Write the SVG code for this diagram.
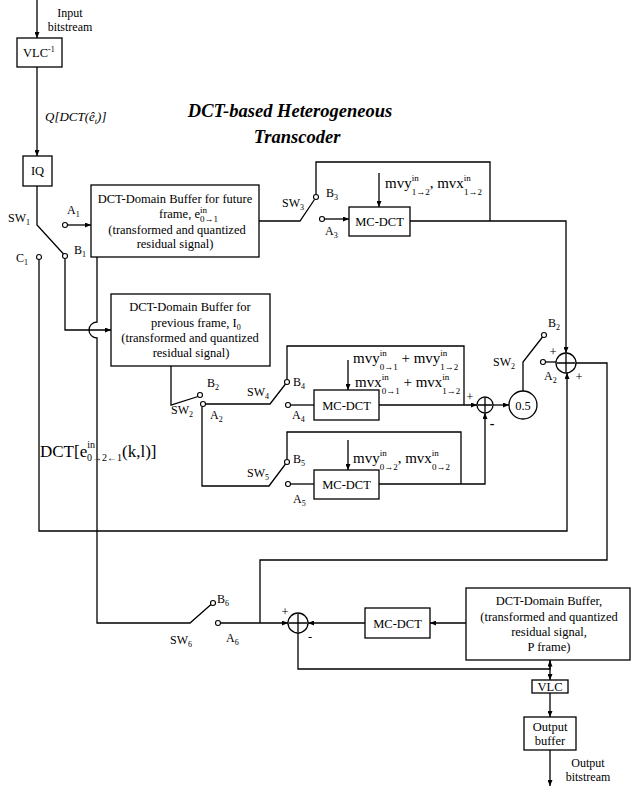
<svg xmlns="http://www.w3.org/2000/svg" width="631" height="786" viewBox="0 0 631 786" font-family="'Liberation Serif', 'Times New Roman', serif">
<style>
.ln{stroke:#000;stroke-width:1.3;fill:none}
.bx{fill:#fff;stroke:#000;stroke-width:1.3}
.pt{fill:#fff;stroke:#000;stroke-width:1.1}
text{font-family:"Liberation Serif","Times New Roman",serif;fill:#000}
.t{font-size:12.5px}
.c{text-anchor:middle}
.lb{font-size:12px}
.s{font-size:8px}
.mv{font-size:15px}
.sup{font-size:9px}
.sub{font-size:9px}
.ttl{font-size:18.5px;font-weight:bold;font-style:italic;text-anchor:middle}
</style>
<defs>
<marker id="ar" markerWidth="6" markerHeight="5" refX="6" refY="2.5" orient="auto" markerUnits="userSpaceOnUse">
<path d="M0,0 L6,2.5 L0,5 z" fill="#000"/>
</marker>
</defs>
<rect width="631" height="786" fill="#fff"/>

<g id="connectors">
<path class="ln" d="M37,0 V38" marker-end="url(#ar)"/>
<path class="ln" d="M37,67 V156" marker-end="url(#ar)"/>
<path class="ln" d="M37,186 V225 L63.5,254"/>
<path class="ln" d="M67.5,225 H91" marker-end="url(#ar)"/>
<path class="ln" d="M65,258.5 V330 H111" marker-end="url(#ar)"/>
<path class="ln" d="M97,257 V322 A8,8 0 0 0 97,338 V623 H190 L211,604.5"/>
<path class="ln" d="M39,259.5 V531 H567 V373" marker-end="url(#ar)"/>
<path class="ln" d="M259,221 H300 L314.5,199.5"/>
<path class="ln" d="M316,194.5 V162 H490 V221"/>
<path class="ln" d="M324.5,219 H349" marker-end="url(#ar)"/>
<path class="ln" d="M379,173 V207" marker-end="url(#ar)"/>
<path class="ln" d="M410,221 H566 V353" marker-end="url(#ar)"/>
<path class="ln" d="M576,363 H607 V560 H260 V623"/>
<path class="ln" d="M545.5,362 H556"/>
<path class="ln" d="M523,391 V362 L542.5,337"/>
<path class="ln" d="M493,405 H509" marker-end="url(#ar)"/>
<path class="ln" d="M171,366 V405 L198,396.5"/>
<path class="ln" d="M205.5,404 H270 L285.5,384"/>
<path class="ln" d="M287,379.5 V346 H464 V405"/>
<path class="ln" d="M290.5,405 H314"/>
<path class="ln" d="M348,360 V390" marker-end="url(#ar)"/>
<path class="ln" d="M379,405 H477" marker-end="url(#ar)"/>
<path class="ln" d="M202,406.5 V486 H269 L285.5,464"/>
<path class="ln" d="M287,459.5 V432 H461 V484"/>
<path class="ln" d="M290.5,484 H314"/>
<path class="ln" d="M348,440 V470" marker-end="url(#ar)"/>
<path class="ln" d="M379,484 H485 V413" marker-end="url(#ar)"/>
<path class="ln" d="M220.5,623 H288" marker-end="url(#ar)"/>
<path class="ln" d="M466,623 H430" marker-end="url(#ar)"/>
<path class="ln" d="M365,623 H308" marker-end="url(#ar)"/>
<path class="ln" d="M298,633 V669 H550 V660.5" marker-end="url(#ar)"/>
<path class="ln" d="M550,660 V680" marker-end="url(#ar)"/>
<path class="ln" d="M550,693 V717" marker-end="url(#ar)"/>
<path class="ln" d="M550,750 V786" marker-end="url(#ar)"/>
</g>

<g id="input-label">
<text class="lb c" x="70" y="17">Input</text>
<text class="lb c" x="70" y="31">bitstream</text>
</g>

<g id="vlc-inv">
<rect class="bx" x="17" y="38" width="45" height="29"/>
<text class="t" x="23" y="57">VLC<tspan class="s" dy="-5">-1</tspan></text>
</g>

<g id="q-label">
<text x="45" y="121" style="font-size:13px;font-style:italic">Q[DCT(ê<tspan class="s" dy="3">t</tspan><tspan dy="-3">)]</tspan></text>
</g>

<g id="title">
<text class="ttl" x="290" y="117">DCT-based Heterogeneous</text>
<text class="ttl" x="297" y="143">Transcoder</text>
</g>

<g id="iq">
<rect class="bx" x="23" y="156" width="29" height="30"/>
<text class="t c" x="37.5" y="175">IQ</text>
</g>

<g id="sw1">
<circle class="pt" cx="65" cy="225" r="2.5"/>
<circle class="pt" cx="65" cy="256" r="2.5"/>
<circle class="pt" cx="39" cy="257" r="2.5"/>
<text class="lb" x="8" y="222">SW<tspan class="s" dy="3">1</tspan></text>
<text class="lb" x="67" y="214">A<tspan class="s" dy="3">1</tspan></text>
<text class="lb" x="74" y="254">B<tspan class="s" dy="3">1</tspan></text>
<text class="lb" x="16" y="262">C<tspan class="s" dy="3">1</tspan></text>
</g>

<g id="buffer-future">
<rect class="bx" x="91" y="185" width="168" height="72"/>
<text class="t c" x="175" y="203">DCT-Domain Buffer for future</text>
<text class="t" x="159" y="218">frame,  e<tspan class="sup" dy="-5">in</tspan><tspan class="sub" dx="-7" dy="8.5">0→1</tspan></text>
<text class="t c" x="177" y="233.5">(transformed and quantized</text>
<text class="t c" x="175" y="248">residual signal)</text>
</g>

<g id="sw3">
<circle class="pt" cx="316" cy="197" r="2.5"/>
<circle class="pt" cx="322" cy="219" r="2.5"/>
<text class="lb" x="282" y="207">SW<tspan class="s" dy="3">3</tspan></text>
<text class="lb" x="326" y="197">B<tspan class="s" dy="3">3</tspan></text>
<text class="lb" x="325" y="235">A<tspan class="s" dy="3">3</tspan></text>
</g>

<g id="mcdct-1">
<rect class="bx" x="349" y="207" width="61" height="29"/>
<text class="t c" x="379.5" y="226">MC-DCT</text>
<text class="mv" x="385" y="188">mvy<tspan class="sup" dy="-7">in</tspan><tspan class="sub" dx="-7" dy="14">1→2</tspan><tspan dy="-7">, mvx</tspan><tspan class="sup" dy="-7">in</tspan><tspan class="sub" dx="-7" dy="14">1→2</tspan></text>
</g>

<g id="buffer-previous">
<rect class="bx" x="111" y="294" width="159" height="72"/>
<text class="t c" x="190" y="311">DCT-Domain Buffer for</text>
<text class="t" x="151" y="327">previous frame, I<tspan class="s" dy="3">0</tspan></text>
<text class="t c" x="190" y="342">(transformed and quantized</text>
<text class="t c" x="191" y="357">residual signal)</text>
</g>

<g id="sw2-left">
<circle class="pt" cx="200" cy="395" r="2.5"/>
<circle class="pt" cx="203" cy="404" r="2.5"/>
<text class="lb" x="171" y="414">SW<tspan class="s" dy="3">2</tspan></text>
<text class="lb" x="207" y="387">B<tspan class="s" dy="3">2</tspan></text>
<text class="lb" x="210" y="419">A<tspan class="s" dy="3">2</tspan></text>
</g>

<g id="sw4">
<circle class="pt" cx="287" cy="382" r="2.5"/>
<circle class="pt" cx="288" cy="405" r="2.5"/>
<text class="lb" x="247" y="396">SW<tspan class="s" dy="3">4</tspan></text>
<text class="lb" x="293" y="386">B<tspan class="s" dy="3">4</tspan></text>
<text class="lb" x="292" y="419">A<tspan class="s" dy="3">4</tspan></text>
</g>

<g id="mcdct-2">
<rect class="bx" x="314" y="390" width="65" height="30"/>
<text class="t c" x="346.5" y="410">MC-DCT</text>
<text class="mv" x="353" y="363">mvy<tspan class="sup" dy="-7">in</tspan><tspan class="sub" dx="-7" dy="14">0→1</tspan><tspan dy="-7"> + mvy</tspan><tspan class="sup" dy="-7">in</tspan><tspan class="sub" dx="-7" dy="14">1→2</tspan></text>
<text class="mv" x="355" y="387">mvx<tspan class="sup" dy="-7">in</tspan><tspan class="sub" dx="-7" dy="14">0→1</tspan><tspan dy="-7"> + mvx</tspan><tspan class="sup" dy="-7">in</tspan><tspan class="sub" dx="-7" dy="14">1→2</tspan></text>
</g>

<g id="sw5">
<circle class="pt" cx="287" cy="462" r="2.5"/>
<circle class="pt" cx="288" cy="484" r="2.5"/>
<text class="lb" x="247" y="477">SW<tspan class="s" dy="3">5</tspan></text>
<text class="lb" x="293" y="463">B<tspan class="s" dy="3">5</tspan></text>
<text class="lb" x="293" y="503">A<tspan class="s" dy="3">5</tspan></text>
</g>

<g id="mcdct-3">
<rect class="bx" x="314" y="470" width="65" height="29"/>
<text class="t c" x="346.5" y="489">MC-DCT</text>
<text class="mv" x="353" y="463">mvy<tspan class="sup" dy="-7">in</tspan><tspan class="sub" dx="-7" dy="14">0→2</tspan><tspan dy="-7">, mvx</tspan><tspan class="sup" dy="-7">in</tspan><tspan class="sub" dx="-7" dy="14">0→2</tspan></text>
</g>

<g id="adder-2">
<circle class="bx" cx="485" cy="405" r="8"/>
<path class="ln" d="M478,405 H492 M485,398 V412"/>
<text class="lb c" x="470" y="401">+</text>
<text class="c" x="492" y="428" style="font-size:14px;font-weight:bold">-</text>
</g>

<g id="scale-05">
<circle class="bx" cx="523" cy="405" r="14"/>
<text class="t c" x="523" y="409.5">0.5</text>
</g>

<g id="sw2-right">
<circle class="pt" cx="544" cy="335" r="2.5"/>
<circle class="pt" cx="543" cy="362" r="2.5"/>
<text class="lb" x="493" y="366">SW<tspan class="s" dy="3">2</tspan></text>
<text class="lb" x="548" y="327">B<tspan class="s" dy="3">2</tspan></text>
<text class="lb" x="544" y="380">A<tspan class="s" dy="3">2</tspan></text>
</g>

<g id="adder-1">
<circle class="bx" cx="566" cy="363" r="10"/>
<path class="ln" d="M557,363 H575 M566,354 V372"/>
<text class="t c" x="553" y="356">+</text>
<text class="t c" x="579" y="381">+</text>
</g>

<g id="dct-label">
<text x="40" y="457" style="font-size:17px">DCT[e<tspan style="font-size:10px" dy="-9">in</tspan><tspan style="font-size:10px" dx="-8" dy="13">0→2←1</tspan><tspan dy="-4">(k,l)]</tspan></text>
</g>

<g id="sw6">
<circle class="pt" cx="213" cy="603" r="2.5"/>
<circle class="pt" cx="218" cy="623" r="2.5"/>
<text class="lb" x="170" y="644">SW<tspan class="s" dy="3">6</tspan></text>
<text class="lb" x="217" y="603">B<tspan class="s" dy="3">6</tspan></text>
<text class="lb" x="226" y="642">A<tspan class="s" dy="3">6</tspan></text>
</g>

<g id="adder-3">
<circle class="bx" cx="298" cy="623" r="10"/>
<path class="ln" d="M289,623 H307 M298,614 V632"/>
<text class="t c" x="285" y="616">+</text>
<text class="t c" x="310" y="641">-</text>
</g>

<g id="mcdct-4">
<rect class="bx" x="365" y="608" width="65" height="30"/>
<text class="t c" x="397.5" y="628">MC-DCT</text>
</g>

<g id="buffer-p">
<rect class="bx" x="466" y="588" width="164" height="72"/>
<text class="t c" x="549" y="605">DCT-Domain Buffer,</text>
<text class="t c" x="549" y="621">(transformed and quantized</text>
<text class="t c" x="549" y="636">residual signal,</text>
<text class="t c" x="549" y="651">P frame)</text>
</g>

<g id="vlc">
<rect class="bx" x="532" y="680" width="36" height="13"/>
<text class="t c" x="550" y="691">VLC</text>
</g>

<g id="output-buffer">
<rect class="bx" x="524" y="717" width="52" height="33"/>
<text class="t c" x="550" y="731">Output</text>
<text class="t c" x="550" y="745">buffer</text>
</g>

<g id="output-label">
<text class="lb c" x="588" y="767">Output</text>
<text class="lb c" x="588" y="781">bitstream</text>
</g>
</svg>
